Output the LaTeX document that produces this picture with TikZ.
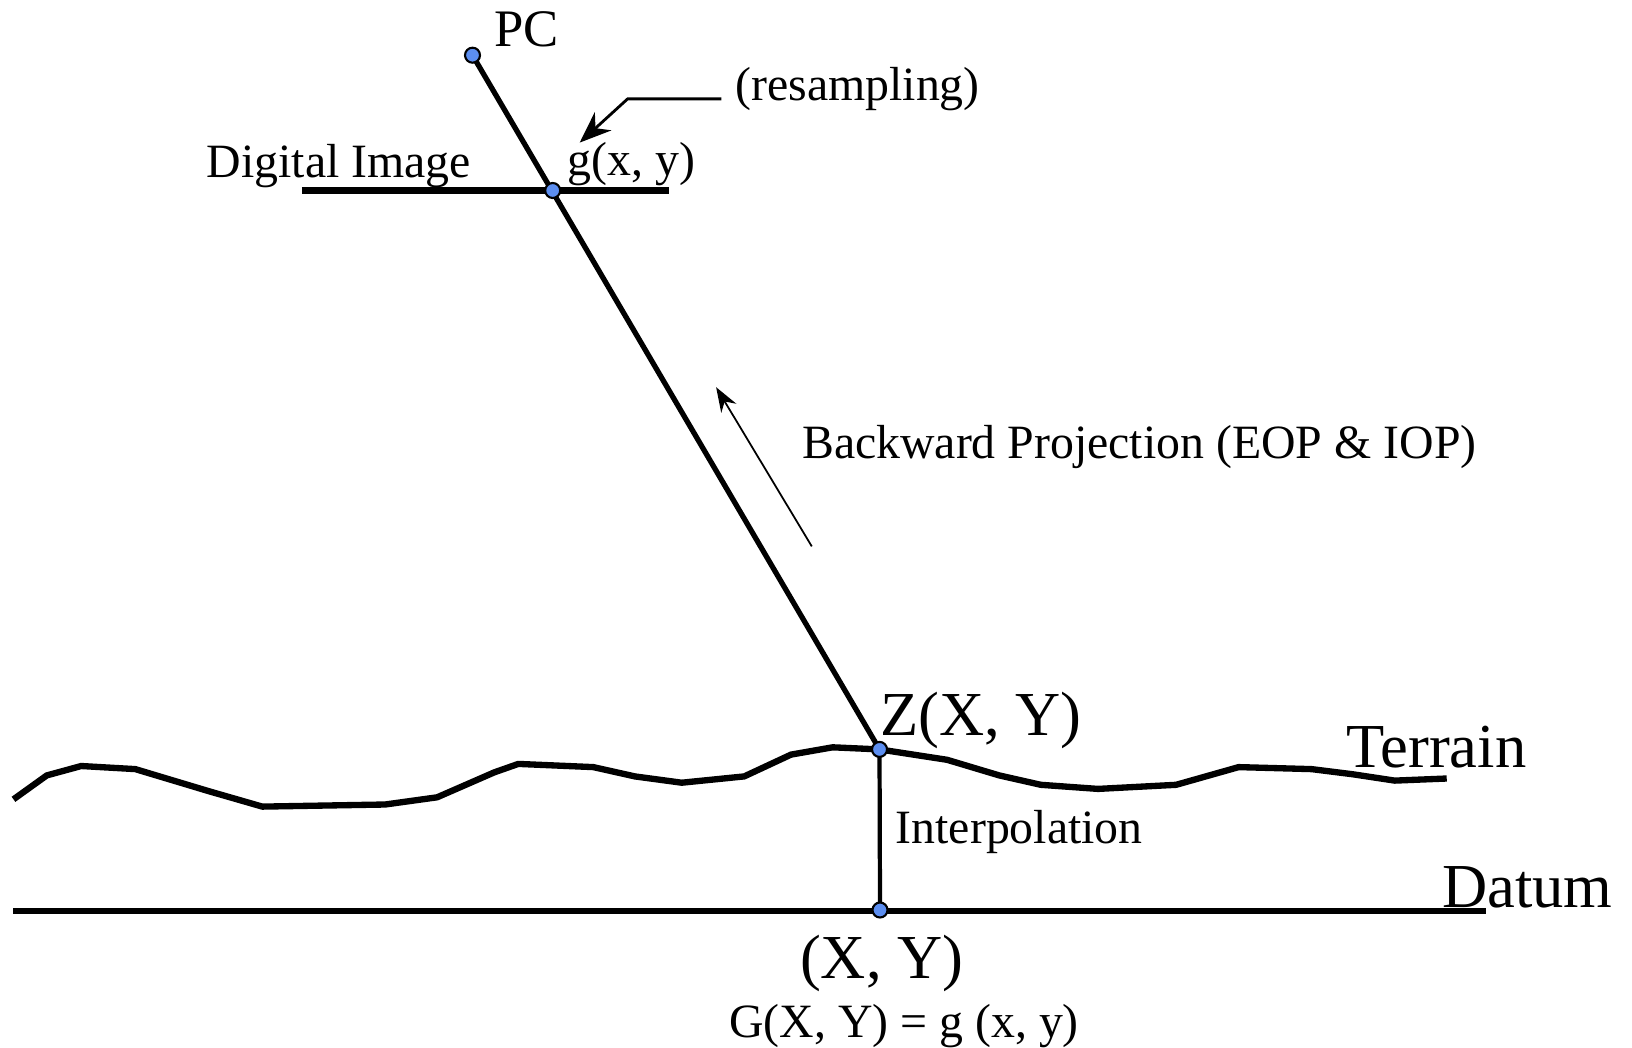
\documentclass[tikz,border=0pt]{standalone}
\usepackage{fontspec}
\setmainfont{Liberation Serif}
\usetikzlibrary{arrows.meta}
\definecolor{dotblue}{RGB}{92,142,240}

\begin{document}
\begin{tikzpicture}[
        font=\fontsize{13.6}{16}\selectfont,
        lbl/.style={anchor=base west, inner sep=0pt},
        biglbl/.style={anchor=base west, inner sep=0pt,
            font=\fontsize{17.8}{21}\selectfont},
        pt/.style={
            circle, draw=black, line width=0.6pt,
            fill=dotblue, inner sep=0pt,
            minimum size=0.15cm
        },
        ray/.style={line width=1.5pt},
        ground/.style={line width=1.8pt, line join=round},
        thinarr/.style={-{Stealth[length=7pt, width=5pt]}, line width=0.5pt}
    ]
    \useasboundingbox (0,0) rectangle (16.32,10.47);

    % Key points
    \coordinate (pcpos)  at (4.725, 9.918);
    \coordinate (gpos)   at (5.527, 8.565);
    \coordinate (zpos)   at (8.795, 2.976);
    \coordinate (xypos)  at (8.800, 1.370);

    % Image plane and datum
    \coordinate (imgL) at (3.018, 8.565);
    \coordinate (imgR) at (6.692, 8.565);
    \coordinate (datL) at (0.135, 1.360);
    \coordinate (datR) at (14.863, 1.360);
    \draw[ground] (imgL) -- (imgR);
    \draw[ground] (datL) -- (datR);

    % Terrain
    \draw[ground] (0.135,2.477) -- (0.468,2.716) -- (0.812,2.810) -- (1.353,2.779)
        -- (2.082,2.560) -- (2.623,2.404) -- (3.851,2.425) -- (4.371,2.497)
        -- (4.944,2.747) -- (5.183,2.831) -- (5.933,2.799) -- (6.349,2.706)
        -- (6.817,2.643) -- (7.442,2.706) -- (7.910,2.924) -- (8.326,2.997)
        -- (zpos) -- (9.471,2.872) -- (9.992,2.716) -- (10.408,2.622)
        -- (10.980,2.581) -- (11.761,2.622) -- (12.386,2.799) -- (13.114,2.779)
        -- (13.530,2.727) -- (13.947,2.664) -- (14.467,2.685);

    % Projection ray and interpolation
    \draw[ray] (pcpos) -- (zpos);
    \draw[line width=1.2pt] (zpos) -- (xypos);

    % Points
    \node[pt] (pc) at (pcpos) {};
    \node[pt] (g)  at (gpos)  {};
    \node[pt] (z)  at (zpos)  {};
    \node[pt] (xy) at (xypos) {};

    % Labels
    \node[lbl, font=\fontsize{15}{18}\selectfont] (pclbl) at (4.933, 10.00) {PC};
    \node[lbl] (imglbl) at (2.061, 8.70) {Digital Image};
    \node[lbl] (glbl) at (5.672, 8.72) {g(x, y)};
    \node[lbl] (reslbl) at (7.348, 9.46) {(resampling)};
    \node[lbl] (bplbl) at (8.014, 5.89) {Backward Projection (EOP \& IOP)};
    \node[biglbl] (zlbl) at (8.795, 3.12) {Z(X, Y)};
    \node[biglbl] (terlbl) at (13.458, 2.80) {Terrain};
    \node[biglbl] (datlbl) at (14.415, 1.394) {Datum};
    \node[lbl] (intlbl) at (8.951, 2.04) {Interpolation};
    \node[biglbl] (xylbl) at (7.993, 0.686) {(X, Y)};
    \node[lbl] (eqlbl) at (7.286, 0.093) {G(X, Y) = g (x, y)};

    % Arrows
    \coordinate (resA) at (7.213, 9.481);
    \coordinate (resB) at (6.276, 9.481);
    \coordinate (resC) at (5.797, 9.044);
    \draw[thinarr, line width=0.8pt, -{Stealth[length=9pt, width=7pt]}] (resA) -- (resB) -- (resC);
    \coordinate (bpA) at (8.118, 5.006);
    \coordinate (bpB) at (7.161, 6.598);
    \draw[thinarr] (bpA) -- (bpB);

    \end{tikzpicture}
\end{document}
